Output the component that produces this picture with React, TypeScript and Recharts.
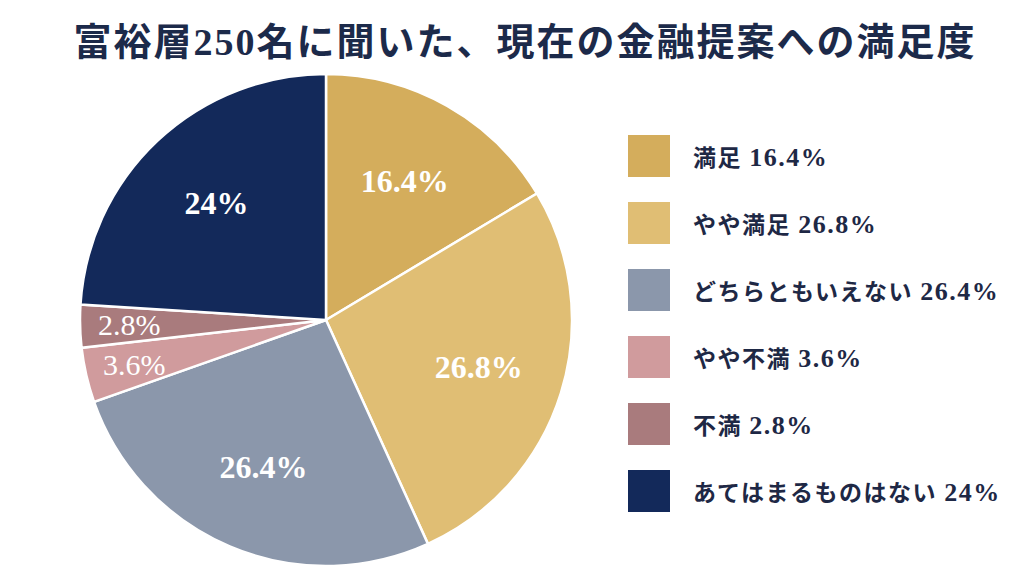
import { PieChart, Pie, Cell, Legend } from 'recharts'

const categories = ['満足', 'やや満足', 'どちらともいえない', 'やや不満', '不満', 'あてはまるものはない']
const shares = [16.4, 26.8, 26.4, 3.6, 2.8, 24]
const shareLabels = ['16.4%', '26.8%', '26.4%', '3.6%', '2.8%', '24%']
const colors = ['#D4AD5C', '#E0BE74', '#8B97AB', '#D09B9D', '#A97B7D', '#13295A']

const title = '富裕層250名に聞いた、現在の金融提案への満足度'

const data = categories.map((name, i) => ({ name, value: shares[i] }))

const RAD = Math.PI / 180
const serif = '"Liberation Serif", "Noto Sans CJK JP", serif'

// ラベルは扇形の内側、小さい扇形は外寄りに置く
const renderLabel = (props: any) => {
  const { cx, cy, midAngle, outerRadius, index } = props
  const small = shares[index] < 5
  const r = small ? outerRadius * 0.8 : outerRadius * 0.65
  const x = cx + r * Math.cos(-midAngle * RAD)
  const y = cy + r * Math.sin(-midAngle * RAD)
  return (
    <text
      x={x}
      y={y}
      fill="#fff"
      textAnchor="middle"
      dominantBaseline="central"
      fontFamily={serif}
      fontWeight={small ? 400 : 700}
      fontSize={small ? 30 : 32}
    >
      {shareLabels[index]}
    </text>
  )
}

const renderLegend = () => (
  <div>
    {categories.map((c, i) => (
      <div key={c} style={{ display: 'flex', alignItems: 'center', height: 67 }}>
        <div style={{ width: 42, height: 42, background: colors[i] }} />
        <span
          style={{
            marginLeft: 23,
            fontFamily: serif,
            fontWeight: 700,
            fontSize: 23,
            letterSpacing: 1.5,
            color: '#1E2845',
            whiteSpace: 'nowrap',
          }}
        >
          {c} <span style={{ fontSize: 26 }}>{shareLabels[i]}</span>
        </span>
      </div>
    ))}
  </div>
)

export default function App() {
  return (
    <div style={{ position: 'absolute', left: 0, top: 0, width: 1024, height: 576, background: '#fff' }}>
      <div
        style={{
          position: 'absolute',
          left: 13,
          top: 18,
          width: 1024,
          textAlign: 'center',
          fontFamily: serif,
          fontWeight: 700,
          fontSize: 38,
          letterSpacing: 2,
          lineHeight: '48px',
          color: '#1C2A4A',
        }}
      >
        {title}
      </div>
      <PieChart
        width={1024}
        height={576}
        margin={{ top: 0, right: 0, bottom: 0, left: 0 }}
        style={{ position: 'absolute', left: 0, top: 0 }}
      >
        <Pie
          data={data}
          dataKey="value"
          nameKey="name"
          cx={326}
          cy={320}
          outerRadius={246}
          startAngle={90}
          endAngle={-270}
          stroke="#fff"
          strokeWidth={2.5}
          label={renderLabel}
          labelLine={false}
          isAnimationActive={false}
        >
          {data.map((d, i) => (
            <Cell key={d.name} fill={colors[i]} />
          ))}
        </Pie>
        <Legend
          content={renderLegend}
          wrapperStyle={{ left: 628, top: 122, width: 390 }}
        />
      </PieChart>
    </div>
  )
}
